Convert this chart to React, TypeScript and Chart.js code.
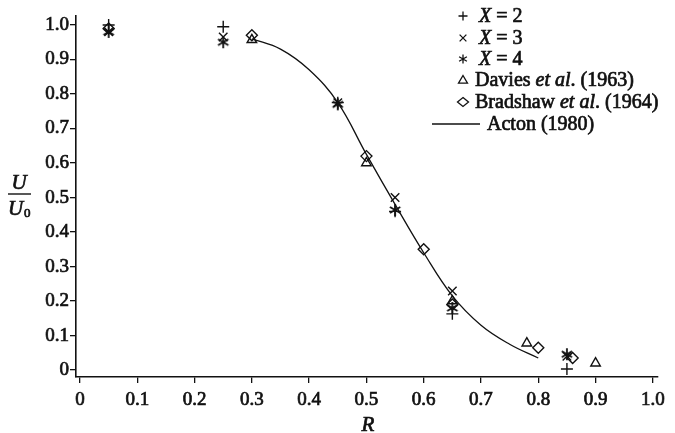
import React, { useEffect, useRef } from 'react';
import { Chart, registerables } from 'chart.js';

Chart.register(...registerables);

// Axis ticks
const xTicks = [0, 0.1, 0.2, 0.3, 0.4, 0.5, 0.6, 0.7, 0.8, 0.9, 1.0];
const yTicks = [0, 0.1, 0.2, 0.3, 0.4, 0.5, 0.6, 0.7, 0.8, 0.9, 1.0];

// Measured profiles U/U0 against R
const x2R = [0.05, 0.25, 0.45, 0.55, 0.65, 0.85];
const x2U = [1.0, 0.995, 0.775, 0.46, 0.163, 0.003];

const x3R = [0.05, 0.25, 0.45, 0.55, 0.65, 0.85];
const x3U = [0.98, 0.965, 0.775, 0.5, 0.229, 0.04];

const x4R = [0.05, 0.25, 0.45, 0.55, 0.65, 0.85];
const x4U = [0.98, 0.95, 0.77, 0.464, 0.18, 0.046];

const daviesR = [0.3, 0.5, 0.65, 0.78, 0.9];
const daviesU = [0.957, 0.6, 0.2, 0.078, 0.02];

const bradshawR = [0.05, 0.3, 0.5, 0.6, 0.65, 0.8, 0.86];
const bradshawU = [0.99, 0.97, 0.62, 0.35, 0.19, 0.065, 0.035];

// Acton (1980) theoretical curve
const actonR = [0.3, 0.35, 0.4, 0.45, 0.5, 0.55, 0.6, 0.65, 0.7, 0.75, 0.8];
const actonU = [0.96, 0.93, 0.87, 0.775, 0.625, 0.48, 0.34, 0.215, 0.13, 0.075, 0.035];

const SERIF = '"Liberation Serif", "Times New Roman", serif';
const INK = '#111';
const TEXT_STROKE = 0.7;

const pts = (xs: number[], ys: number[]) => xs.map((x, i) => ({ x, y: ys[i] }));

function makeAsterisk(size: number, lw: number): HTMLCanvasElement {
  const c = document.createElement('canvas');
  c.width = size;
  c.height = size;
  const ctx = c.getContext('2d')!;
  const r = size / 2 - 1;
  ctx.strokeStyle = INK;
  ctx.lineWidth = lw;
  ctx.translate(size / 2, size / 2);
  for (const a of [90, 30, 150]) {
    const t = (a * Math.PI) / 180;
    ctx.beginPath();
    ctx.moveTo(-Math.cos(t) * r, -Math.sin(t) * r);
    ctx.lineTo(Math.cos(t) * r, Math.sin(t) * r);
    ctx.stroke();
  }
  return c;
}

function legendSymbol(ctx: CanvasRenderingContext2D, kind: string, x: number, y: number) {
  const s = 4.5;
  ctx.save();
  ctx.strokeStyle = INK;
  ctx.lineWidth = 1.3;
  ctx.beginPath();
  if (kind === 'plus') {
    ctx.moveTo(x - s, y); ctx.lineTo(x + s, y);
    ctx.moveTo(x, y - s); ctx.lineTo(x, y + s);
  } else if (kind === 'cross') {
    const d = s * 0.75;
    ctx.moveTo(x - d, y - d); ctx.lineTo(x + d, y + d);
    ctx.moveTo(x + d, y - d); ctx.lineTo(x - d, y + d);
  } else if (kind === 'aster') {
    for (const a of [90, 30, 150]) {
      const t = (a * Math.PI) / 180;
      ctx.moveTo(x - Math.cos(t) * s, y - Math.sin(t) * s);
      ctx.lineTo(x + Math.cos(t) * s, y + Math.sin(t) * s);
    }
  } else if (kind === 'tri') {
    ctx.moveTo(x, y - s);
    ctx.lineTo(x + s, y + s * 0.7);
    ctx.lineTo(x - s, y + s * 0.7);
    ctx.closePath();
  } else if (kind === 'diamond') {
    ctx.moveTo(x, y - s);
    ctx.lineTo(x + s + 1, y);
    ctx.lineTo(x, y + s);
    ctx.lineTo(x - s - 1, y);
    ctx.closePath();
  } else if (kind === 'line') {
    ctx.moveTo(x - 31, y);
    ctx.lineTo(x + 17, y);
  }
  ctx.stroke();
  ctx.restore();
}

// Filled text with a fine outline so the serif reads a little heavier
function inkText(ctx: CanvasRenderingContext2D, txt: string, x: number, y: number) {
  ctx.fillText(txt, x, y);
  ctx.strokeText(txt, x, y);
}

// Draws a run of text pieces, each either roman or italic
function drawRuns(ctx: CanvasRenderingContext2D, runs: [string, boolean][], x: number, y: number, size: number) {
  let cx = x;
  for (const [txt, it] of runs) {
    ctx.font = `${it ? 'italic ' : ''}${size}px ${SERIF}`;
    inkText(ctx, txt, cx, y);
    cx += ctx.measureText(txt).width;
  }
}

const annotations = {
  id: 'annotations',
  afterDraw(chart: any) {
    const ctx: CanvasRenderingContext2D = chart.ctx;
    ctx.save();
    ctx.fillStyle = INK;
    ctx.strokeStyle = INK;
    ctx.textBaseline = 'middle';
    ctx.textAlign = 'left';

    // Legend
    const rows: { kind: string; runs: [string, boolean][]; y: number; tx: number }[] = [
      { kind: 'plus', runs: [['X', true], [' = 2', false]], y: 16, tx: 479 },
      { kind: 'cross', runs: [['X', true], [' = 3', false]], y: 38, tx: 479 },
      { kind: 'aster', runs: [['X', true], [' = 4', false]], y: 59, tx: 479 },
      { kind: 'tri', runs: [['Davies ', false], ['et al', true], ['. (1963)', false]], y: 80, tx: 475 },
      { kind: 'diamond', runs: [['Bradshaw ', false], ['et al', true], ['. (1964)', false]], y: 102, tx: 475 },
      { kind: 'line', runs: [['Acton (1980)', false]], y: 124, tx: 487 },
    ];
    for (const r of rows) {
      legendSymbol(ctx, r.kind, 463, r.y);
      ctx.lineWidth = TEXT_STROKE;
      drawRuns(ctx, r.runs, r.tx, r.y + 1, 20);
    }

    // Axis titles
    ctx.lineWidth = TEXT_STROKE;
    ctx.textAlign = 'center';
    ctx.font = `italic 21px ${SERIF}`;
    inkText(ctx, 'R', 368, 425);
    inkText(ctx, 'U', 19, 183);

    ctx.lineWidth = 1.4;
    ctx.beginPath();
    ctx.moveTo(8, 194);
    ctx.lineTo(31, 194);
    ctx.stroke();

    ctx.lineWidth = TEXT_STROKE;
    ctx.textAlign = 'left';
    inkText(ctx, 'U', 8, 209);
    ctx.font = `13px ${SERIF}`;
    inkText(ctx, '0', 24, 214);
    ctx.restore();
  },
};

export default function App() {
  const ref = useRef<HTMLCanvasElement | null>(null);

  useEffect(() => {
    if (!ref.current) return;
    const aster = makeAsterisk(14, 1.8);
    const common = {
      showLine: false,
      borderColor: INK,
      backgroundColor: 'rgba(0,0,0,0)',
      borderWidth: 1.4,
      pointRadius: 5,
      pointHoverRadius: 5,
    };
    const tickFont = { family: SERIF, size: 19 };
    const tickText = { color: INK, font: tickFont, textStrokeColor: INK, textStrokeWidth: TEXT_STROKE, autoSkip: false };
    const fmt = (v: any) => (v === 0 ? '0' : Number(v).toFixed(1));
    const chart = new Chart(ref.current, {
      type: 'scatter',
      data: {
        datasets: [
          { label: 'Acton (1980)', data: pts(actonR, actonU), showLine: true, pointRadius: 0, borderColor: INK, borderWidth: 1.3, tension: 0.4, fill: false } as any,
          { ...common, label: 'X = 2', data: pts(x2R, x2U), pointStyle: 'cross', pointRadius: 6 },
          { ...common, label: 'X = 3', data: pts(x3R, x3U), pointStyle: 'crossRot', pointRadius: 6 },
          { ...common, label: 'X = 4', data: pts(x4R, x4U), pointStyle: aster as any },
          { ...common, label: 'Davies et al. (1963)', data: pts(daviesR, daviesU), pointStyle: 'triangle', pointRadius: 5.5 },
          { ...common, label: 'Bradshaw et al. (1964)', data: pts(bradshawR, bradshawU), pointStyle: 'rectRot', pointRadius: 5.5 },
        ],
      },
      options: {
        responsive: false,
        animation: false,
        events: [],
        layout: { padding: { top: 16, right: 17, left: 0, bottom: 0 } },
        plugins: { legend: { display: false }, tooltip: { enabled: false } },
        scales: {
          x: {
            type: 'linear',
            min: -0.007,
            max: 1.009,
            afterBuildTicks: (axis: any) => {
              axis.ticks = xTicks.map((v) => ({ value: v }));
            },
            afterFit: (axis: any) => {
              axis.height = 56;
            },
            border: { display: true, color: INK, width: 1.6 },
            grid: { display: true, drawOnChartArea: false, drawTicks: true, tickLength: 6, color: INK, lineWidth: 1.3 },
            ticks: { ...tickText, padding: 6, maxRotation: 0, callback: fmt },
          },
          y: {
            type: 'linear',
            min: -0.02,
            max: 1.026,
            afterBuildTicks: (axis: any) => {
              axis.ticks = yTicks.map((v) => ({ value: v }));
            },
            afterFit: (axis: any) => {
              axis.width = 76;
            },
            border: { display: true, color: INK, width: 1.6 },
            grid: { display: true, drawOnChartArea: false, drawTicks: true, tickLength: 6, color: INK, lineWidth: 1.3 },
            ticks: { ...tickText, padding: 1, callback: fmt },
          },
        },
      },
      plugins: [annotations],
    } as any);
    return () => chart.destroy();
  }, []);

  return (
    <div style={{ position: 'absolute', left: 0, top: 0, width: 675, height: 433, background: '#fff' }}>
      <canvas ref={ref} width={675} height={433} style={{ display: 'block' }} />
    </div>
  );
}
